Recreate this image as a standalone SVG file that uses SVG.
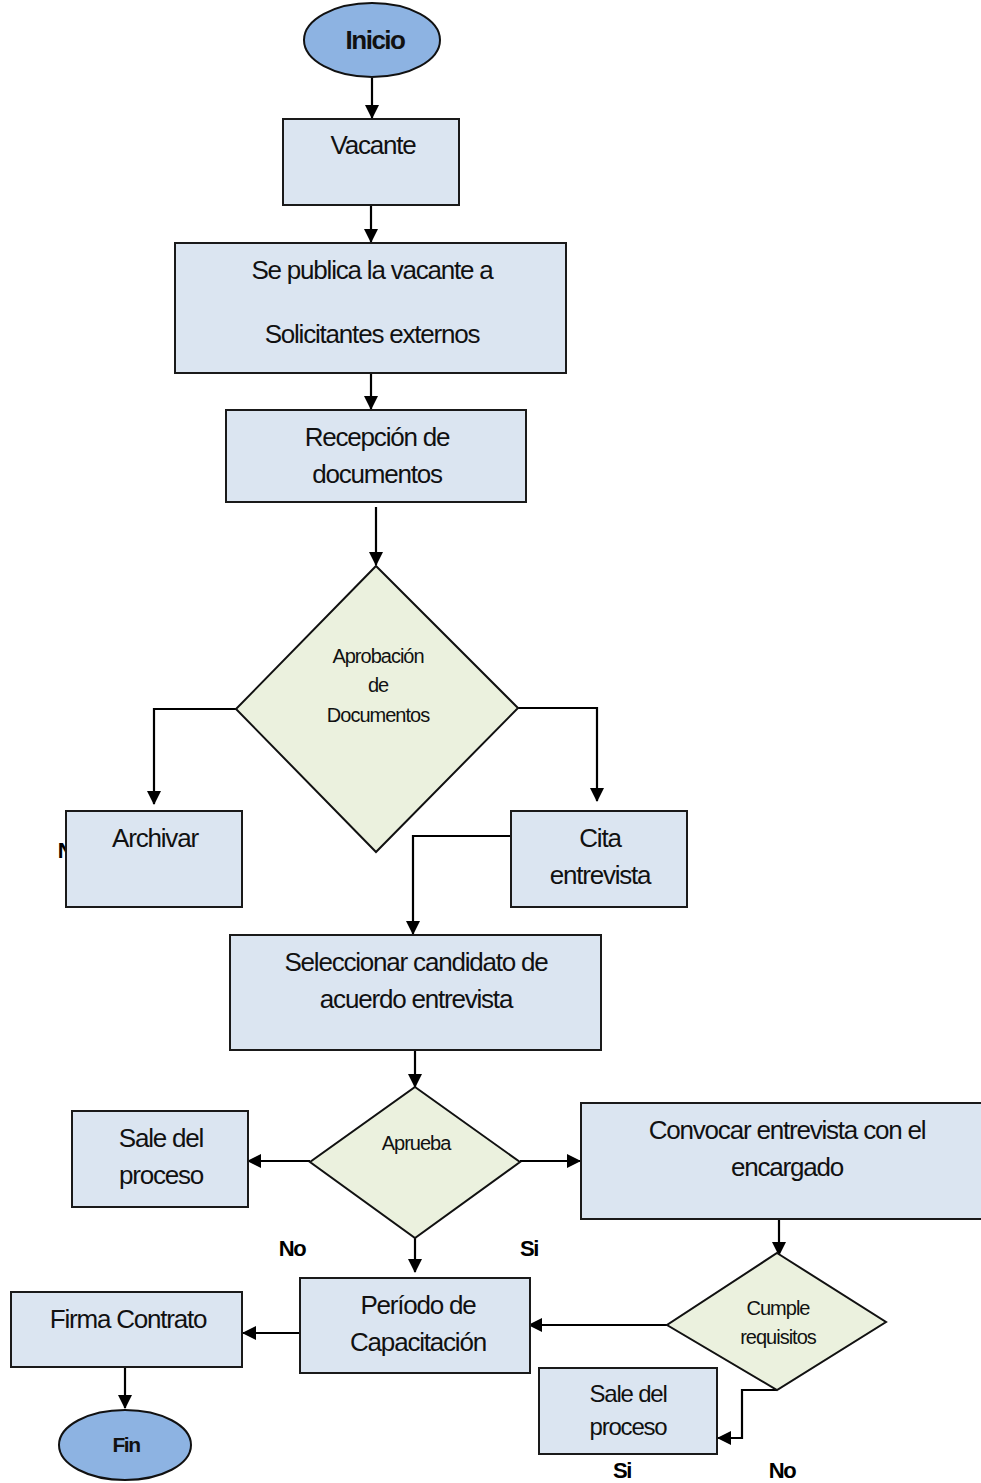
<svg xmlns="http://www.w3.org/2000/svg" width="981" height="1483" viewBox="0 0 981 1483">
  <defs>
    <marker id="arrow" markerUnits="userSpaceOnUse" markerWidth="14" markerHeight="14" refX="13" refY="7" orient="auto">
      <path d="M0,0 L14,7 L0,14 Z" fill="#000"/>
    </marker>
    <style>
      .box { fill: #dbe5f1; stroke: #1a1a1a; stroke-width: 2; }
      .dec { fill: #ebf1de; stroke: #111; stroke-width: 2; }
      .term { fill: #8db3e2; stroke: #111; stroke-width: 2; }
      .t { font-family: "Liberation Sans", Arial, sans-serif; font-size: 26px; letter-spacing: -1.2px; fill: #111; text-anchor: middle; }
      .ts { font-family: "Liberation Sans", Arial, sans-serif; font-size: 20px; letter-spacing: -1px; fill: #111; text-anchor: middle; }
      .tb { font-family: "Liberation Sans", Arial, sans-serif; font-weight: bold; font-size: 26px; letter-spacing: -1.5px; fill: #111; text-anchor: middle; }
      .lbl { font-family: "Liberation Sans", Arial, sans-serif; font-weight: bold; font-size: 22px; letter-spacing: -1.5px; fill: #000; text-anchor: middle; }
      .conn { fill: none; stroke: #000; stroke-width: 2.2; }
    </style>
  </defs>

  <!-- branch labels -->
  <g id="labels">
    <text class="lbl" x="71" y="858">No</text>
    <text class="lbl" x="292" y="1256">No</text>
    <text class="lbl" x="529" y="1256">Si</text>
    <text class="lbl" x="622" y="1478">Si</text>
    <text class="lbl" x="782" y="1478">No</text>
  </g>

  <g id="connectors">
    <path class="conn" d="M372,78 V118" marker-end="url(#arrow)"/>
    <path class="conn" d="M371,205 V242" marker-end="url(#arrow)"/>
    <path class="conn" d="M371,373 V409" marker-end="url(#arrow)"/>
    <path class="conn" d="M376,507 V565" marker-end="url(#arrow)"/>
    <path class="conn" d="M236,709 H154 V804" marker-end="url(#arrow)"/>
    <path class="conn" d="M518,708 H597 V801" marker-end="url(#arrow)"/>
    <path class="conn" d="M511,836 H413 V934" marker-end="url(#arrow)"/>
    <path class="conn" d="M415,1050 V1087" marker-end="url(#arrow)"/>
    <path class="conn" d="M310,1161 H248" marker-end="url(#arrow)"/>
    <path class="conn" d="M520,1161 H580" marker-end="url(#arrow)"/>
    <path class="conn" d="M415,1238 V1272" marker-end="url(#arrow)"/>
    <path class="conn" d="M779,1219 V1255" marker-end="url(#arrow)"/>
    <path class="conn" d="M667,1325 H529" marker-end="url(#arrow)"/>
    <path class="conn" d="M777,1390 H742 V1438 H718" marker-end="url(#arrow)"/>
    <path class="conn" d="M300,1333 H243" marker-end="url(#arrow)"/>
    <path class="conn" d="M125,1367 V1408" marker-end="url(#arrow)"/>
  </g>

  <g id="inicio">
    <ellipse class="term" cx="372" cy="40" rx="68" ry="37"/>
    <text class="tb" x="375" y="49">Inicio</text>
  </g>

  <g id="vacante">
    <rect class="box" x="283" y="119" width="176" height="86"/>
    <text class="t" x="373" y="154">Vacante</text>
  </g>

  <g id="publica">
    <rect class="box" x="175" y="243" width="391" height="130"/>
    <text class="t" x="372" y="279">Se publica la vacante a</text>
    <text class="t" x="372" y="343">Solicitantes externos</text>
  </g>

  <g id="recepcion">
    <rect class="box" x="226" y="410" width="300" height="92"/>
    <text class="t" x="377" y="446">Recepción de</text>
    <text class="t" x="377" y="483">documentos</text>
  </g>

  <g id="aprobacion">
    <polygon class="dec" points="376,566 518,708 376,852 236,709"/>
    <text class="ts" x="378" y="663">Aprobación</text>
    <text class="ts" x="378" y="692">de</text>
    <text class="ts" x="378" y="722">Documentos</text>
  </g>

  <g id="archivar">
    <rect class="box" x="66" y="811" width="176" height="96"/>
    <text class="t" x="155" y="847">Archivar</text>
  </g>

  <g id="cita">
    <rect class="box" x="511" y="811" width="176" height="96"/>
    <text class="t" x="600" y="847">Cita</text>
    <text class="t" x="600" y="884">entrevista</text>
  </g>

  <g id="seleccionar">
    <rect class="box" x="230" y="935" width="371" height="115"/>
    <text class="t" x="416" y="971">Seleccionar candidato de</text>
    <text class="t" x="416" y="1008">acuerdo entrevista</text>
  </g>

  <g id="aprueba">
    <polygon class="dec" points="415,1087 520,1162 415,1238 310,1162"/>
    <text class="ts" x="416" y="1150">Aprueba</text>
  </g>

  <g id="sale1">
    <rect class="box" x="72" y="1111" width="176" height="96"/>
    <text class="t" x="161" y="1147">Sale del</text>
    <text class="t" x="161" y="1184">proceso</text>
  </g>

  <g id="convocar">
    <rect class="box" x="581" y="1103" width="410" height="116"/>
    <text class="t" x="787" y="1139">Convocar entrevista con el</text>
    <text class="t" x="787" y="1176">encargado</text>
  </g>

  <g id="periodo">
    <rect class="box" x="300" y="1278" width="230" height="95"/>
    <text class="t" x="418" y="1314">Período de</text>
    <text class="t" x="418" y="1351">Capacitación</text>
  </g>

  <g id="cumple">
    <polygon class="dec" points="777,1253 886,1322 777,1390 667,1325"/>
    <text class="ts" x="778" y="1315">Cumple</text>
    <text class="ts" x="778" y="1344">requisitos</text>
  </g>

  <g id="sale2">
    <rect class="box" x="539" y="1368" width="178" height="86"/>
    <text class="t" x="628" y="1402" style="font-size:24px">Sale del</text>
    <text class="t" x="628" y="1435" style="font-size:24px">proceso</text>
  </g>

  <g id="firma">
    <rect class="box" x="11" y="1292" width="231" height="75"/>
    <text class="t" x="128" y="1328">Firma Contrato</text>
  </g>

  <g id="fin">
    <ellipse class="term" cx="125" cy="1445" rx="66" ry="35"/>
    <text class="tb" x="126" y="1452" style="font-size:21px">Fin</text>
  </g>
</svg>
